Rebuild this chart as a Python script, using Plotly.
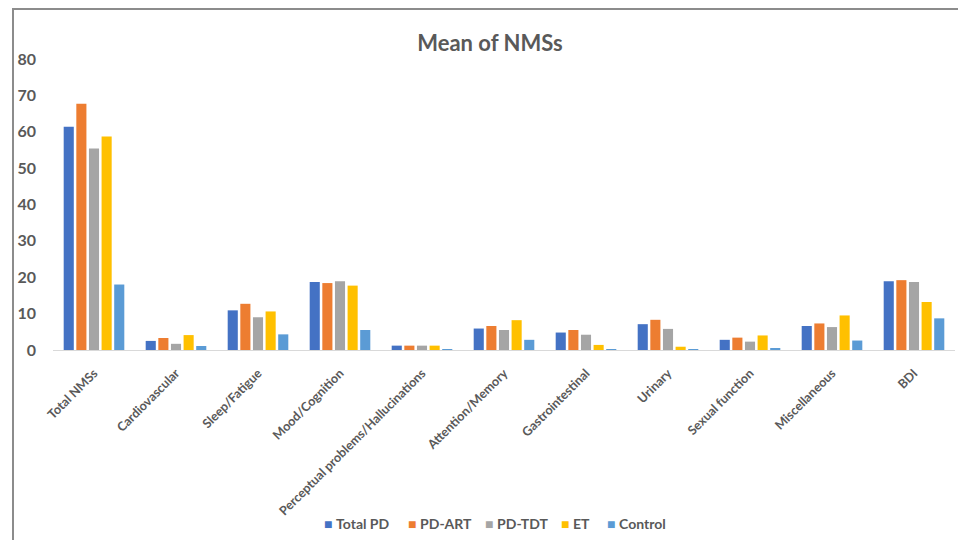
import plotly.graph_objects as go

categories = ["Total NMSs", "Cardiovascular", "Sleep/Fatigue", "Mood/Cognition",
              "Perceptual problems/Hallucinations", "Attention/Memory", "Gastrointestinal",
              "Urinary", "Sexual function", "Miscellaneous", "BDI"]

total_pd = [61.4, 2.5, 10.9, 18.7, 1.2, 5.9, 4.8, 7.1, 2.8, 6.6, 18.9]
pd_art   = [67.7, 3.3, 12.7, 18.4, 1.2, 6.6, 5.5, 8.3, 3.4, 7.3, 19.2]
pd_tdt   = [55.4, 1.7, 9.0, 18.9, 1.2, 5.5, 4.2, 5.8, 2.3, 6.3, 18.7]
et       = [58.7, 4.1, 10.6, 17.7, 1.2, 8.2, 1.4, 0.9, 4.0, 9.5, 13.2]
control  = [18.0, 1.1, 4.3, 5.5, 0.2, 2.8, 0.2, 0.2, 0.5, 2.6, 8.7]

series_names = ["Total PD", "PD-ART", "PD-TDT", "ET", "Control"]
series_values = [total_pd, pd_art, pd_tdt, et, control]
colors = ["#4472C4", "#ED7D31", "#A5A5A5", "#FFC000", "#5B9BD5"]

font_family = "Lato, 'Open Sans', sans-serif"
grey = "#595959"

W, H = 958, 532
L, R, T, B = 45, 11, 51, 190
plot_w = W - L - R
plot_h = H - T - B

fig = go.Figure()
for name, vals, col in zip(series_names, series_values, colors):
    fig.add_trace(go.Bar(x=categories, y=vals, name=name, marker_color=col,
                         marker_line_width=0, showlegend=False))

fig.update_layout(
    width=W, height=H,
    margin=dict(l=L, r=R, t=T, b=B, autoexpand=False),
    paper_bgcolor="white", plot_bgcolor="white",
    barmode="group", bargap=0.23, bargroupgap=0.2,
    title=dict(text="<b>Mean of NMSs</b>", x=482 / W, xanchor="center",
               y=1 - 35 / H, yanchor="middle",
               font=dict(family=font_family, size=22, color=grey)),
    xaxis=dict(tickangle=-45, showline=True, linecolor="#D9D9D9", linewidth=1,
               ticks="", tickfont=dict(family=font_family, size=12.6, color=grey, weight="bold"),
               ticklabelstandoff=10,
               showgrid=False, zeroline=False, automargin=False),
    yaxis=dict(range=[0, 80], dtick=10, showgrid=False, zeroline=False, showline=False,
               tickfont=dict(family=font_family, size=16, color=grey, weight="bold"),
               ticklabelstandoff=16, automargin=False),
)

# legend drawn as text entries below the chart
legend_x = [314, 398, 475, 551, 597]  # left edge of each entry (px)
legend_y = 515
for name, col, lx in zip(series_names, colors, legend_x):
    fig.add_annotation(
        xref="paper", yref="paper",
        x=(lx - L) / plot_w, y=(H - B - legend_y) / plot_h,
        xanchor="left", yanchor="middle", showarrow=False,
        text=f"<span style='color:{col}'>■</span> <b>{name}</b>",
        font=dict(family=font_family, size=14, color=grey))

# frame around the chart (left, top, right edges)
def px_x(p):
    return (p - L) / plot_w

def px_y(p):
    return (H - B - p) / plot_h

frame = dict(color="#8C8C8C", width=2)
fig.add_shape(type="line", xref="paper", yref="paper",
              x0=px_x(5), x1=px_x(5), y0=px_y(0), y1=px_y(H + 5), line=frame)
fig.add_shape(type="line", xref="paper", yref="paper",
              x0=px_x(5), x1=px_x(957), y0=px_y(1), y1=px_y(1), line=frame)
fig.add_shape(type="line", xref="paper", yref="paper",
              x0=px_x(957), x1=px_x(957), y0=px_y(0), y1=px_y(H + 5), line=frame)

fig.write_html("out.html")
